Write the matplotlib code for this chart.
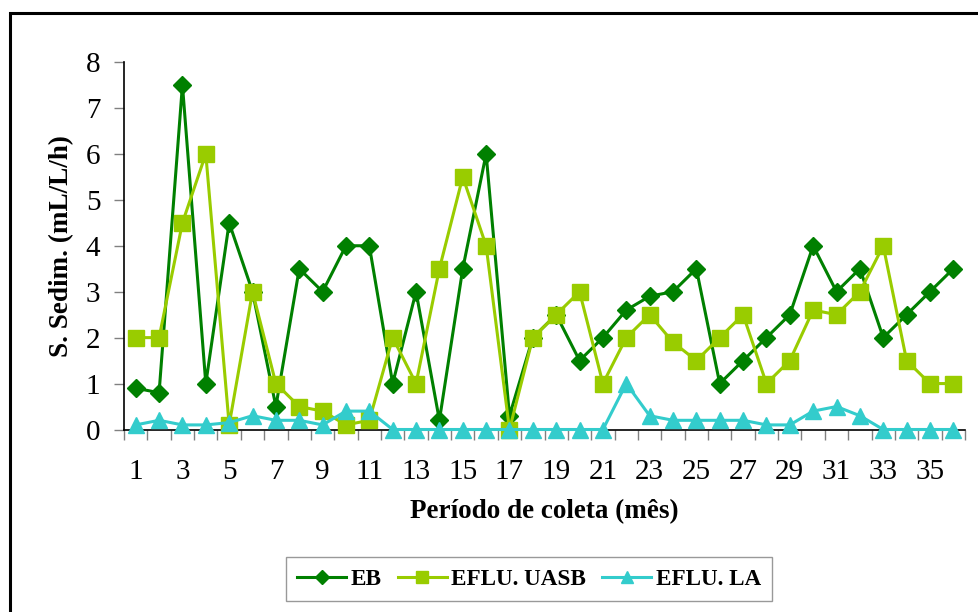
import matplotlib
matplotlib.use("Agg")
from matplotlib import pyplot as plt
from matplotlib.patches import Rectangle
import numpy as np

meses = list(range(1, 37))
eb = [0.9, 0.8, 7.5, 1, 4.5, 3, 0.5, 3.5, 3, 4, 4, 1, 3, 0.2, 3.5, 6, 0.3, 2,
      2.5, 1.5, 2, 2.6, 2.9, 3, 3.5, 1, 1.5, 2, 2.5, 4, 3, 3.5, 2, 2.5, 3, 3.5]
uasb = [2, 2, 4.5, 6, 0.1, 3, 1, 0.5, 0.4, 0.1, 0.2, 2, 1, 3.5, 5.5, 4, 0, 2,
        2.5, 3, 1, 2, 2.5, 1.9, 1.5, 2, 2.5, 1, 1.5, 2.6, 2.5, 3, 4, 1.5, 1, 1]
la = [0.1, 0.2, 0.1, 0.1, 0.15, 0.3, 0.2, 0.2, 0.1, 0.4, 0.4, 0, 0, 0, 0, 0, 0, 0,
      0, 0, 0, 1, 0.3, 0.2, 0.2, 0.2, 0.2, 0.1, 0.1, 0.4, 0.5, 0.3, 0, 0, 0, 0]

plt.rcParams['font.family'] = ['Liberation Serif', 'DejaVu Serif']

fig = plt.figure(figsize=(9.79, 6.12), dpi=100)
ax = fig.add_axes([0.1267, 0.2982, 0.859, 0.6005])

ax.plot(meses, eb, color='#008000', lw=2.2, marker='D', ms=9, label='EB', clip_on=False, zorder=3)
ax.plot(meses, uasb, color='#99CC00', lw=2.2, marker='s', ms=11, label='EFLU. UASB', clip_on=False, zorder=3)
ax.plot(meses, la, color='#33CCCC', lw=2.2, marker='^', ms=11, label='EFLU. LA', clip_on=False, zorder=4)

ax.set_xlim(0.5, 36.5)
ax.set_ylim(0, 8)
ax.set_yticks(range(0, 9))
ax.set_xticks(np.arange(0.5, 37, 1))
ax.set_xticklabels([])
ax.set_xticks(range(1, 37, 2), minor=True)
ax.set_xticklabels([str(m) for m in range(1, 37, 2)], minor=True)
ax.tick_params(axis='x', which='major', length=7, direction='out', color='#808080', width=1)
ax.tick_params(axis='x', which='minor', length=0, labelsize=21, pad=21)
ax.tick_params(axis='y', length=7, direction='out', color='#808080', width=1, labelsize=21, pad=10)
for s in ['top', 'right']:
    ax.spines[s].set_visible(False)
for s in ['left', 'bottom']:
    ax.spines[s].set_linewidth(1.2)

ax.set_ylabel('S. Sedim. (mL/L/h)', fontsize=19.5, fontweight='bold', va='center')
ax.yaxis.set_label_coords(-0.0737, 0.5)
ax.set_xlabel('Período de coleta (mês)', fontsize=19.5, fontweight='bold', va='center')
ax.xaxis.set_label_coords(0.5, -0.2245)

leg = ax.legend(loc='upper center', bbox_to_anchor=(0.4816, -0.347), ncol=3, frameon=True,
                fancybox=False, edgecolor='#808080', prop={'size': 16.7, 'weight': 'bold'},
                handlelength=2.1, handletextpad=0.2, columnspacing=0.7, borderpad=0.5,
                borderaxespad=0, markerscale=0.75)
leg.get_frame().set_linewidth(1)

fig.patches.append(Rectangle((9.5 / 979, -0.05), 1.1, 1 - 12.5 / 612 + 0.05,
                             transform=fig.transFigure, fill=False,
                             edgecolor='black', lw=2.2))

fig.savefig('out.png', dpi=100)
